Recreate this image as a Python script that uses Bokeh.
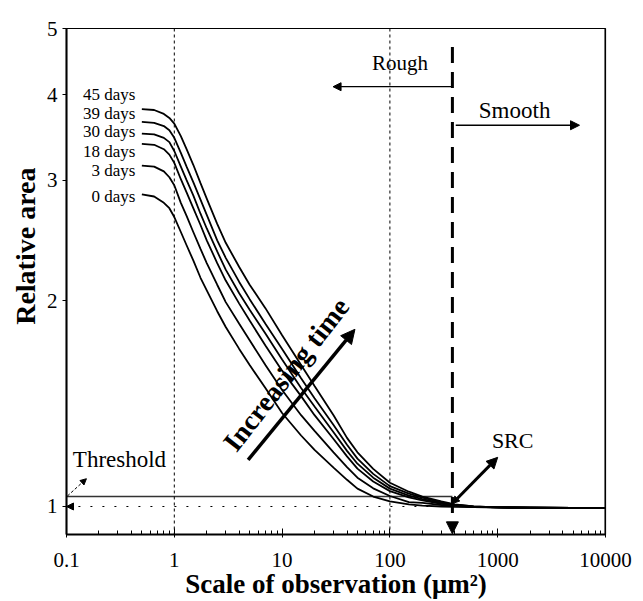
import math
from bokeh.plotting import figure
from bokeh.models import (Range1d, FixedTicker, CustomJSTickFormatter, Arrow,
                          NormalHead, Label, Span, Title)
from bokeh.embed import file_html
from bokeh.resources import INLINE

# Scale of observation (um^2) shared by all series
scale_um2 = [0.5, 0.65, 0.8, 0.9, 1, 1.15, 1.3, 1.5, 1.75, 2, 2.5, 3, 4, 5, 7, 10,
             15, 20, 30, 40, 50, 70, 100, 150, 200, 300, 400, 600, 1000, 2000,
             5000, 10000]

# Relative area per storage time
area_0d = [2.86, 2.84, 2.78, 2.73, 2.65, 2.52, 2.41, 2.29, 2.16, 2.07, 1.93, 1.83,
           1.70, 1.61, 1.49, 1.37, 1.27, 1.21, 1.14, 1.094, 1.062, 1.034, 1.017,
           1.007, 1.003, 1.000, 0.999, 0.998, 0.997, 0.996, 0.995, 0.995]
area_3d = [3.15, 3.14, 3.09, 3.03, 2.95, 2.78, 2.66, 2.52, 2.38, 2.27, 2.11, 1.99,
           1.85, 1.75, 1.61, 1.48, 1.36, 1.29, 1.20, 1.142, 1.102, 1.063, 1.036,
           1.015, 1.012, 1.005, 1.002, 0.998, 0.997, 0.996, 0.995, 0.995]
area_18d = [3.39, 3.38, 3.33, 3.27, 3.18, 3.01, 2.88, 2.73, 2.58, 2.45, 2.27, 2.14,
            1.98, 1.87, 1.72, 1.58, 1.45, 1.36, 1.255, 1.184, 1.136, 1.088, 1.053,
            1.031, 1.021, 1.009, 1.004, 0.999, 0.997, 0.996, 0.995, 0.995]
area_30d = [3.51, 3.50, 3.46, 3.41, 3.31, 3.14, 3.00, 2.85, 2.68, 2.55, 2.36, 2.22,
            2.05, 1.94, 1.79, 1.64, 1.49, 1.40, 1.284, 1.206, 1.155, 1.102, 1.062,
            1.037, 1.025, 1.011, 1.005, 0.999, 0.997, 0.996, 0.995, 0.995]
area_39d = [3.65, 3.64, 3.60, 3.55, 3.46, 3.29, 3.14, 2.98, 2.81, 2.67, 2.45, 2.31,
            2.13, 2.01, 1.85, 1.70, 1.54, 1.44, 1.316, 1.231, 1.175, 1.116, 1.071,
            1.044, 1.030, 1.014, 1.006, 1.000, 0.997, 0.996, 0.995, 0.995]
area_45d = [3.81, 3.80, 3.75, 3.70, 3.63, 3.48, 3.33, 3.16, 2.97, 2.82, 2.59, 2.43,
            2.24, 2.11, 1.95, 1.78, 1.61, 1.50, 1.36, 1.26, 1.20, 1.135, 1.083,
            1.051, 1.034, 1.017, 1.007, 1.000, 0.997, 0.996, 0.995, 0.995]

series = [area_0d, area_3d, area_18d, area_30d, area_39d, area_45d]
day_labels = ["0 days", "3 days", "18 days", "30 days", "39 days", "45 days"]
day_label_y = [2.84, 3.10, 3.30, 3.53, 3.75, 4.00]

x_ticks = [0.1, 1, 10, 100, 1000, 10000]
y_ticks = [1, 2, 3, 4, 5]

src_scale = 380        # scale-relative complexity crossover
threshold_area = 1.034
serif = "Liberation Serif"

p = figure(width=643, height=601, x_axis_type="log", y_axis_type="log",
           x_range=Range1d(0.1, 10000), y_range=Range1d(0.91, 5),
           output_backend="svg", toolbar_location=None,
           min_border_left=66, min_border_right=38, min_border_top=28,
           min_border_bottom=67)
p.grid.visible = False
p.background_fill_color = "white"
p.border_fill_color = "white"
p.outline_line_color = "black"
p.outline_line_width = 1.2

minor_x = [m * 10 ** d for d in range(-1, 4) for m in range(2, 10)]
p.xaxis.ticker = FixedTicker(ticks=x_ticks, minor_ticks=minor_x)
p.yaxis.ticker = FixedTicker(ticks=y_ticks, minor_ticks=[])
p.xaxis.formatter = CustomJSTickFormatter(code="return tick.toString()")
p.yaxis.formatter = CustomJSTickFormatter(code="return tick.toString()")

for ax in (p.xaxis[0], p.yaxis[0]):
    ax.axis_line_color = "black"
    ax.axis_line_width = 2
    ax.major_tick_line_color = "black"
    ax.minor_tick_line_color = "black"
    ax.major_label_text_font = serif
    ax.major_label_text_font_size = "21px"
    ax.major_label_text_color = "black"

p.xaxis.major_tick_in = 6
p.xaxis.major_tick_out = 3
p.xaxis.minor_tick_in = 4
p.xaxis.minor_tick_out = 0
p.xaxis.major_label_standoff = 15
p.xaxis.axis_label = "Scale of observation (\u03bcm\u00b2)"
p.xaxis.axis_label_text_font = serif
p.xaxis.axis_label_text_font_style = "bold"
p.xaxis.axis_label_text_font_size = "27px"
p.xaxis.axis_label_text_color = "black"
p.xaxis.axis_label_standoff = -1

p.yaxis.major_tick_in = 0
p.yaxis.major_tick_out = 4
p.yaxis.minor_tick_in = 0
p.yaxis.minor_tick_out = 0
p.yaxis.major_label_standoff = 5

# right edge of the frame drawn heavier
p.add_layout(Span(location=10000, dimension="height", line_color="black",
                  line_width=2))

# y axis title, placed towards the upper part of the axis
p.add_layout(Title(text="Relative area", align="right", offset=139,
                   text_font=serif, text_font_style="bold",
                   text_font_size="28px", text_color="black", standoff=6),
             "left")

# reference verticals at 1 and 100 um^2
for loc in (1, 100):
    p.add_layout(Span(location=loc, dimension="height", line_color="black",
                      line_width=1, line_dash="3 3"))

# threshold line and the unit baseline
p.line([0.1, src_scale], [threshold_area, threshold_area], line_color="#333333",
       line_width=1.5)
p.add_layout(Arrow(end=NormalHead(size=7, fill_color="black", line_color="black"),
                   x_start=src_scale, y_start=1.0, x_end=0.1, y_end=1.0,
                   line_color="black", line_width=1.2, line_dash="2 10"))

# curves
for vals in series:
    p.line(scale_um2, vals, line_color="black", line_width=1.8)

for txt, yv in zip(day_labels, day_label_y):
    p.add_layout(Label(x=0.435, y=yv, text=txt, text_align="right",
                       text_baseline="middle", text_font=serif,
                       text_font_size="17px", text_color="black"))

# SRC divider
p.add_layout(Arrow(end=NormalHead(size=12, fill_color="black", line_color="black"),
                   x_start=src_scale, y_start=4.7, x_end=src_scale, y_end=0.912,
                   line_color="black", line_width=3, line_dash="16 9"))

# rough / smooth regions
p.add_layout(Arrow(end=NormalHead(size=8, fill_color="black", line_color="black"),
                   x_start=src_scale, y_start=4.11, x_end=29.7, y_end=4.11,
                   line_color="black", line_width=1.2))
p.add_layout(Label(x=124, y=4.45, text="Rough", text_align="center",
                   text_baseline="middle", text_font=serif,
                   text_font_size="21px", text_color="black"))
p.add_layout(Arrow(end=NormalHead(size=9, fill_color="black", line_color="black"),
                   x_start=408, y_start=3.61, x_end=5740, y_end=3.61,
                   line_color="black", line_width=1.5))
p.add_layout(Label(x=1435, y=3.79, text="Smooth", text_align="center",
                   text_baseline="middle", text_font=serif,
                   text_font_size="23px", text_color="black"))

# SRC pointer
p.add_layout(Arrow(start=NormalHead(size=7, fill_color="black", line_color="black"),
                   end=NormalHead(size=11, fill_color="black", line_color="black"),
                   x_start=src_scale, y_start=1.01, x_end=1000, y_end=1.18,
                   line_color="black", line_width=3))
p.add_layout(Label(x=1377, y=1.25, text="SRC", text_align="center",
                   text_baseline="middle", text_font=serif,
                   text_font_size="22px", text_color="black"))

# threshold pointer
p.add_layout(Arrow(end=NormalHead(size=6, fill_color="black", line_color="black"),
                   x_start=0.102, y_start=1.036, x_end=0.153, y_end=1.098,
                   line_color="black", line_width=1, line_dash="3 2"))
p.add_layout(Label(x=0.31, y=1.17, text="Threshold", text_align="center",
                   text_baseline="middle", text_font=serif,
                   text_font_size="23px", text_color="black"))

# increasing time
p.add_layout(Arrow(end=NormalHead(size=14, fill_color="black", line_color="black"),
                   x_start=4.84, y_start=1.17, x_end=47.4, y_end=1.816,
                   line_color="black", line_width=3.5))
p.add_layout(Label(x=10.9, y=1.56, text="Increasing time", text_align="center",
                   text_baseline="middle", angle=math.radians(52),
                   text_font=serif, text_font_style="bold",
                   text_font_size="28px", text_color="black"))

open("out.html", "w").write(file_html(p, INLINE))
